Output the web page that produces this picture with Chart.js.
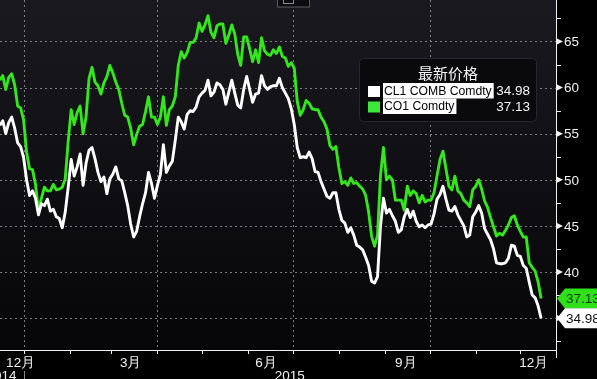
<!DOCTYPE html>
<html><head><meta charset="utf-8">
<script src="https://cdn.jsdelivr.net/npm/chart.js@4.4.1/dist/chart.umd.min.js"></script>
<style>html,body{margin:0;padding:0;background:#000;}#wrap{width:597px;height:379px;position:relative;overflow:hidden;}</style>
</head><body><div id="wrap"><canvas id="c" width="597" height="379"></canvas></div>
<script>
// ---------- data ----------
const dates = [
'2014-12-16','2014-12-18','2014-12-20','2014-12-22','2014-12-24','2014-12-26','2014-12-28','2014-12-30',
'2015-01-01','2015-01-03','2015-01-05','2015-01-07','2015-01-09','2015-01-11','2015-01-13','2015-01-15','2015-01-17','2015-01-19','2015-01-21','2015-01-23','2015-01-25','2015-01-27','2015-01-29','2015-01-31',
'2015-02-02','2015-02-04','2015-02-06','2015-02-08','2015-02-10','2015-02-12','2015-02-14','2015-02-16','2015-02-18','2015-02-20','2015-02-22','2015-02-24','2015-02-26','2015-02-28',
'2015-03-02','2015-03-04','2015-03-06','2015-03-08','2015-03-10','2015-03-12','2015-03-14','2015-03-16','2015-03-18','2015-03-20','2015-03-22','2015-03-24','2015-03-26','2015-03-28','2015-03-30',
'2015-04-01','2015-04-03','2015-04-05','2015-04-07','2015-04-09','2015-04-11','2015-04-13','2015-04-15','2015-04-17','2015-04-19','2015-04-21','2015-04-23','2015-04-25','2015-04-27','2015-04-29',
'2015-05-01','2015-05-03','2015-05-05','2015-05-07','2015-05-09','2015-05-11','2015-05-13','2015-05-15','2015-05-17','2015-05-19','2015-05-21','2015-05-23','2015-05-25','2015-05-27','2015-05-29','2015-05-31',
'2015-06-02','2015-06-04','2015-06-06','2015-06-08','2015-06-10','2015-06-12','2015-06-14','2015-06-16','2015-06-18','2015-06-20','2015-06-22','2015-06-24','2015-06-26','2015-06-28','2015-06-30',
'2015-07-02','2015-07-04','2015-07-06','2015-07-08','2015-07-10','2015-07-12','2015-07-14','2015-07-16','2015-07-18','2015-07-20','2015-07-22','2015-07-24','2015-07-26','2015-07-28','2015-07-30',
'2015-08-01','2015-08-03','2015-08-05','2015-08-07','2015-08-09','2015-08-11','2015-08-13','2015-08-15','2015-08-17','2015-08-19','2015-08-21','2015-08-23','2015-08-25','2015-08-27','2015-08-29','2015-08-31',
'2015-09-02','2015-09-04','2015-09-06','2015-09-08','2015-09-10','2015-09-12','2015-09-14','2015-09-16','2015-09-18','2015-09-20','2015-09-22','2015-09-24','2015-09-26','2015-09-28','2015-09-30',
'2015-10-02','2015-10-04','2015-10-06','2015-10-08','2015-10-10','2015-10-12','2015-10-14','2015-10-16','2015-10-18','2015-10-20','2015-10-22','2015-10-24','2015-10-26','2015-10-28','2015-10-30',
'2015-11-01','2015-11-03','2015-11-05','2015-11-07','2015-11-09','2015-11-11','2015-11-13','2015-11-15','2015-11-17','2015-11-19','2015-11-21','2015-11-23','2015-11-25','2015-11-27','2015-11-29',
'2015-12-01','2015-12-03','2015-12-05','2015-12-07','2015-12-09','2015-12-11','2015-12-13','2015-12-15'
];
const cl1Values = [
55.9,56.4,55.0,56.2,56.8,55.6,54.0,53.6,52.4,50.0,
48.3,48.8,48.0,46.2,47.4,47.2,47.9,46.6,46.8,46.0,
45.8,44.8,46.5,49.2,52.2,50.4,51.4,52.8,49.4,51.8,
53.2,53.5,52.3,50.8,49.8,50.3,48.5,50.1,50.6,51.4,
50.1,49.9,48.6,47.2,45.2,43.8,44.4,46.0,47.4,48.6,
50.8,49.6,48.0,49.4,50.6,53.8,50.8,51.5,52.0,54.3,
56.8,56.3,55.5,57.1,57.5,57.4,57.9,59.0,59.4,59.7,
60.8,59.1,59.5,60.5,60.3,59.8,58.2,59.5,60.8,59.4,
58.1,57.8,59.8,61.2,59.8,58.4,59.3,59.4,61.3,60.2,
59.8,60.1,60.2,60.2,61.0,60.0,59.4,58.8,57.7,56.0,
53.5,52.4,52.5,52.4,53.0,52.3,50.9,50.8,49.8,49.0,
48.2,48.0,48.6,48.6,46.8,45.6,45.3,44.3,44.8,44.0,
42.9,42.7,42.4,41.6,40.7,39.0,38.8,39.5,45.0,48.0,
46.4,46.8,46.1,45.5,44.3,44.6,46.0,46.8,45.9,46.6,
45.5,44.9,45.1,44.8,45.1,45.2,46.3,47.9,48.4,49.3,
47.9,46.7,46.6,47.1,46.2,45.6,45.0,43.8,44.0,46.0,
46.5,47.2,46.4,44.7,44.1,43.5,42.5,41.0,40.9,40.9,
41.0,41.5,42.9,42.8,41.8,41.7,40.7,40.4,38.9,37.5,
37.2,36.3,34.98
];
const co1Values = [
60.8,61.3,59.8,61.1,61.5,60.3,58.0,57.8,56.5,53.0,
51.2,51.1,49.5,46.7,48.0,49.2,48.8,48.8,49.5,48.9,
49.0,49.2,50.1,54.2,57.6,56.0,57.3,58.0,55.0,56.8,
61.0,62.2,60.6,60.2,59.3,60.5,61.2,62.4,61.6,60.6,
59.8,58.3,57.0,56.8,55.6,53.8,54.9,55.8,56.0,57.4,
59.0,56.8,56.8,56.0,56.8,59.0,55.9,57.6,58.0,59.0,
62.4,63.9,63.2,63.8,64.9,64.9,65.4,67.0,66.1,66.8,
67.8,66.0,65.4,66.7,66.9,66.9,64.8,65.7,66.8,65.8,
63.6,62.4,65.5,65.5,64.2,62.8,64.1,62.7,65.4,64.0,
63.6,63.5,64.1,63.7,64.4,63.4,63.2,62.3,62.7,62.1,
58.5,57.0,57.6,58.6,58.3,57.7,57.6,57.6,56.8,56.3,
55.5,53.7,53.3,53.6,51.3,49.6,49.8,49.4,50.2,49.6,
49.7,49.3,49.0,48.3,46.5,43.9,42.8,44.0,50.5,53.5,
50.0,50.4,50.0,47.8,47.8,47.8,46.7,49.3,48.3,48.8,
48.5,47.5,48.3,47.6,47.8,47.8,48.6,50.4,52.2,53.1,
51.2,49.3,48.9,50.4,48.8,48.5,47.8,47.5,47.1,48.9,
49.3,50.0,49.0,47.7,47.0,45.9,44.9,43.9,44.2,44.0,
44.5,45.1,45.9,46.1,45.1,44.4,43.8,43.8,41.0,40.5,
40.1,38.9,37.13
];
const seriesNames = ['CL1 COMB Comdty','CO1 Comdty'];
const lastValues = ['34.98','37.13'];
const legendTitle = '最新价格';
const yTickValues = [35,40,45,50,55,60,65];
const yMinorValues = [32.5,37.5,42.5,47.5,52.5,57.5,62.5,67.5];
const quarterGridDates = ['2015-01-01','2015-04-01','2015-07-01','2015-10-01'];
const monthTickDates = ['2015-01-01','2015-02-01','2015-03-01','2015-04-01','2015-05-01','2015-06-01','2015-07-01','2015-08-01','2015-09-01','2015-10-01','2015-11-01','2015-12-01'];
const monthLabels = ['12月','3月','6月','9月','12月'];
const monthLabelDates = ['2014-12-30','2015-03-14','2015-06-13','2015-09-15','2015-12-10'];
const yearLabels = ['2014','2015'];

// ---------- helpers ----------
const EPOCH = Date.UTC(2015,0,1);
function dayOf(s){const p=s.split('-').map(Number);return (Date.UTC(p[0],p[1]-1,p[2])-EPOCH)/86400000;}
const xDays = dates.map(dayOf);
const cl1Data = xDays.map((d,i)=>({x:d,y:cl1Values[i]}));
const co1Data = xDays.map((d,i)=>({x:d,y:co1Values[i]}));

const WHITE='#ffffff', GREEN='#34e61c';
const FONT='"Liberation Sans", Arial, sans-serif';

const decor = {
  id:'decor',
  beforeDraw(chart){
    const {ctx, chartArea:a} = chart;
    const xs=chart.scales.x, ys=chart.scales.y;
    ctx.save();
    ctx.fillStyle='#000'; ctx.fillRect(0,0,chart.width,chart.height);
    const g=ctx.createLinearGradient(0,a.top,0,a.bottom);
    g.addColorStop(0,'#19191f'); g.addColorStop(1,'#060608');
    ctx.fillStyle=g; ctx.fillRect(a.left,a.top,a.right-a.left,a.bottom-a.top);
    ctx.strokeStyle='rgba(150,150,155,0.8)'; ctx.lineWidth=1; ctx.setLineDash([2,3]);
    yTickValues.forEach(v=>{const y=Math.round(ys.getPixelForValue(v))+0.5;ctx.beginPath();ctx.moveTo(a.left,y);ctx.lineTo(a.right,y);ctx.stroke();});
    quarterGridDates.forEach(s=>{const x=Math.round(xs.getPixelForValue(dayOf(s)))+0.5;ctx.beginPath();ctx.moveTo(x,a.top);ctx.lineTo(x,a.bottom);ctx.stroke();});
    ctx.restore();
  },
  afterDatasetsDraw(chart){
    const {ctx, chartArea:a} = chart;
    const xs=chart.scales.x, ys=chart.scales.y;
    ctx.save();
    // axes
    ctx.strokeStyle='#f0f0f0'; ctx.lineWidth=1;
    ctx.beginPath(); ctx.moveTo(0,a.bottom+0.5); ctx.lineTo(a.right+1,a.bottom+0.5); ctx.stroke();
    ctx.beginPath(); ctx.moveTo(a.right+0.5,0); ctx.lineTo(a.right+0.5,a.bottom+8); ctx.stroke();
    // right ticks
    ctx.fillStyle='#f0f0f0';
    yMinorValues.forEach(v=>{const y=Math.round(ys.getPixelForValue(v))+0.5;ctx.beginPath();ctx.moveTo(a.right,y);ctx.lineTo(a.right+5,y);ctx.stroke();});
    ctx.font='13.5px '+FONT; ctx.textAlign='left'; ctx.textBaseline='middle';
    yTickValues.forEach(v=>{const y=ys.getPixelForValue(v);
      ctx.beginPath();ctx.moveTo(a.right+1,y-3);ctx.lineTo(a.right+1,y+3);ctx.lineTo(a.right+7,y);ctx.closePath();ctx.fill();
      ctx.fillText(String(v),a.right+8,y+1);});
    // bottom ticks
    monthTickDates.forEach(s=>{const x=Math.round(xs.getPixelForValue(dayOf(s)))+0.5;ctx.beginPath();ctx.moveTo(x,a.bottom);ctx.lineTo(x,a.bottom+4);ctx.stroke();});
    ctx.textAlign='center'; ctx.textBaseline='middle'; ctx.fillStyle='#f0f0f0';
    monthLabels.forEach((t,i)=>{ctx.fillText(t,xs.getPixelForValue(dayOf(monthLabelDates[i])),a.bottom+13);});
    const xYear=xs.getPixelForValue(dayOf('2015-01-01'));
    ctx.textBaseline='top';
    ctx.textAlign='right'; ctx.fillText(yearLabels[0],xYear-7,a.bottom+20);
    ctx.textAlign='center'; ctx.fillText(yearLabels[1],(xYear+a.right)/2,a.bottom+20);
    ctx.strokeStyle='#888'; ctx.beginPath(); ctx.moveTo(Math.round(xYear)+0.5,a.bottom+21); ctx.lineTo(Math.round(xYear)+0.5,chart.height); ctx.stroke();
    // last value tags
    function tag(v,text,bg,fg){
      const y=ys.getPixelForValue(v);
      ctx.fillStyle=bg; ctx.beginPath();
      ctx.moveTo(a.right+1,y); ctx.lineTo(a.right+9,y-10); ctx.lineTo(chart.width,y-10); ctx.lineTo(chart.width,y+10); ctx.lineTo(a.right+9,y+10); ctx.closePath(); ctx.fill();
      ctx.fillStyle=fg; ctx.font='13.5px '+FONT; ctx.textAlign='left'; ctx.textBaseline='middle';
      ctx.fillText(text,a.right+10,y+1);
    }
    tag(co1Values[co1Values.length-1],lastValues[1],'#2fe01a','#0b3a08');
    tag(cl1Values[cl1Values.length-1],lastValues[0],'#ffffff','#111');
    // top small button
    ctx.fillStyle='#0c0c0f'; ctx.fillRect(277,-1,33,8);
    ctx.strokeStyle='#5a5a60'; ctx.strokeRect(277.5,-1.5,32,8.5);
    ctx.strokeStyle='#8a8a90'; ctx.strokeRect(283.5,-1.5,10,5);
    // legend box
    const bx=359,by=58,bw=177,bh=63;
    ctx.fillStyle='#0a0a0d'; ctx.strokeStyle='#26262c';
    ctx.beginPath(); if(ctx.roundRect){ctx.roundRect(bx+0.5,by+0.5,bw,bh,4);}else{ctx.rect(bx+0.5,by+0.5,bw,bh);} ctx.fill(); ctx.stroke();
    ctx.fillStyle='#f4f4f4'; ctx.font='15px "Noto Sans CJK SC", sans-serif'; ctx.textAlign='center'; ctx.textBaseline='middle';
    ctx.fillText(legendTitle,448,73);
    const rows=[{y:91,c:WHITE,n:seriesNames[0],v:lastValues[0]},{y:106.5,c:'#3de83a',n:seriesNames[1],v:lastValues[1]}];
    ctx.font='12.2px '+FONT;
    rows.forEach(r=>{
      ctx.fillStyle=r.c; ctx.fillRect(368,r.y-5,12,11);
      const w=ctx.measureText(r.n).width;
      ctx.fillStyle='#ffffff'; ctx.fillRect(383,r.y-8,w+3,15.5);
      ctx.fillStyle='#000'; ctx.textAlign='left'; ctx.fillText(r.n,384,r.y+0.5);
      ctx.fillStyle='#f4f4f4'; ctx.font='13.5px '+FONT; ctx.textAlign='right'; ctx.fillText(r.v,530,r.y+0.5);
      ctx.font='12.2px '+FONT;
    });
    ctx.restore();
  }
};

new Chart(document.getElementById('c'),{
  type:'line',
  data:{datasets:[
    {label:seriesNames[0],data:cl1Data,borderColor:WHITE,borderWidth:2.9,pointRadius:0,tension:0,fill:false,borderJoinStyle:'round'},
    {label:seriesNames[1],data:co1Data,borderColor:GREEN,borderWidth:2.9,pointRadius:0,tension:0,fill:false,borderJoinStyle:'round'}
  ]},
  options:{
    responsive:false,animation:false,
    layout:{padding:{left:0,top:0,right:41,bottom:29}},
    scales:{
      x:{type:'linear',min:-15.87,max:358,display:false},
      y:{type:'linear',min:31.54,max:69.5,display:false}
    },
    plugins:{legend:{display:false},tooltip:{enabled:false}},
    events:[]
  },
  plugins:[decor]
});
</script></body></html>
